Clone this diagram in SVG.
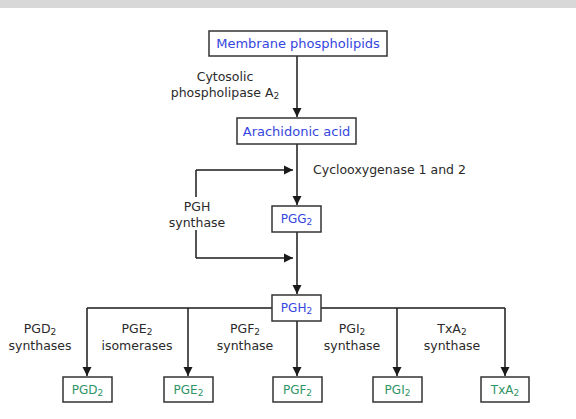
<svg xmlns="http://www.w3.org/2000/svg" width="576" height="419" viewBox="0 0 576 419">
<defs>
<marker id="ah" markerWidth="10" markerHeight="10" refX="9" refY="5" orient="auto" markerUnits="userSpaceOnUse">
<path d="M0,0.5 L9,5 L0,9.5 Z" fill="#1a1a1a"/>
</marker>
<style>
.box{fill:#fff;stroke:#333;stroke-width:1.5}
.nb{font-family:"DejaVu Sans",Verdana,sans-serif;font-size:12px;fill:#3546e0;text-anchor:middle}
.big{font-size:13px}
.ng{font-family:"DejaVu Sans",Verdana,sans-serif;font-size:12px;fill:#2f9466;text-anchor:middle}
.lb{font-family:"DejaVu Sans",Verdana,sans-serif;font-size:12.5px;fill:#2a2a2a;text-anchor:middle}
.st{text-anchor:start}
.sub{font-size:9px}
.ln{fill:none;stroke:#1a1a1a;stroke-width:1.5}
.ar{fill:none;stroke:#1a1a1a;stroke-width:1.5;marker-end:url(#ah)}
</style>
</defs>
<rect x="0" y="0" width="576" height="419" fill="#fff"/>
<rect x="0" y="0" width="576" height="8" fill="#d8d8d8"/>

<g id="connectors">
<line class="ar" x1="297" y1="56" x2="297" y2="117"/>
<line class="ar" x1="297" y1="144" x2="297" y2="205"/>
<polyline class="ln" points="196,197 196,170"/>
<line class="ar" x1="196" y1="170" x2="293" y2="170"/>
<polyline class="ln" points="196,230 196,258"/>
<line class="ar" x1="196" y1="258" x2="293" y2="258"/>
<line class="ar" x1="297" y1="232" x2="297" y2="294"/>
<line class="ln" x1="87" y1="308" x2="272" y2="308"/>
<line class="ln" x1="321" y1="308" x2="505" y2="308"/>
<line class="ar" x1="87" y1="308" x2="87" y2="376"/>
<line class="ar" x1="188" y1="308" x2="188" y2="376"/>
<line class="ar" x1="297" y1="321" x2="297" y2="376"/>
<line class="ar" x1="397" y1="308" x2="397" y2="376"/>
<line class="ar" x1="505" y1="308" x2="505" y2="376"/>
</g>

<g id="labels">
<text class="lb" x="225" y="81">Cytosolic</text>
<text class="lb" x="225" y="97">phospholipase A<tspan class="sub" dy="2">2</tspan></text>
<text class="lb st" x="313" y="174">Cyclooxygenase 1 and 2</text>
<text class="lb" x="197" y="211">PGH</text>
<text class="lb" x="197" y="227">synthase</text>
<text class="lb" x="40" y="333">PGD<tspan class="sub" dy="2">2</tspan></text>
<text class="lb" x="40" y="350">synthases</text>
<text class="lb" x="137" y="333">PGE<tspan class="sub" dy="2">2</tspan></text>
<text class="lb" x="137" y="350">isomerases</text>
<text class="lb" x="245" y="333">PGF<tspan class="sub" dy="2">2</tspan></text>
<text class="lb" x="245" y="350">synthase</text>
<text class="lb" x="352" y="333">PGI<tspan class="sub" dy="2">2</tspan></text>
<text class="lb" x="352" y="350">synthase</text>
<text class="lb" x="452" y="333">TxA<tspan class="sub" dy="2">2</tspan></text>
<text class="lb" x="452" y="350">synthase</text>
</g>

<g id="membrane">
<rect class="box" x="209" y="31" width="178" height="25"/>
<text class="nb big" x="298" y="48">Membrane phospholipids</text>
</g>
<g id="arachidonic">
<rect class="box" x="237" y="118" width="119" height="26"/>
<text class="nb big" x="296.5" y="135.5">Arachidonic acid</text>
</g>
<g id="pgg2">
<rect class="box" x="272" y="206" width="49" height="26"/>
<text class="nb" x="296.5" y="223">PGG<tspan class="sub" dy="2">2</tspan></text>
</g>
<g id="pgh2">
<rect class="box" x="272" y="295" width="49" height="26"/>
<text class="nb" x="296.5" y="312">PGH<tspan class="sub" dy="2">2</tspan></text>
</g>
<g id="pgd2">
<rect class="box" x="63" y="377" width="49" height="25"/>
<text class="ng" x="87.5" y="394">PGD<tspan class="sub" dy="2">2</tspan></text>
</g>
<g id="pge2">
<rect class="box" x="164" y="377" width="49" height="25"/>
<text class="ng" x="188.5" y="394">PGE<tspan class="sub" dy="2">2</tspan></text>
</g>
<g id="pgf2">
<rect class="box" x="273" y="377" width="49" height="25"/>
<text class="ng" x="297.5" y="394">PGF<tspan class="sub" dy="2">2</tspan></text>
</g>
<g id="pgi2">
<rect class="box" x="373" y="377" width="49" height="25"/>
<text class="ng" x="397.5" y="394">PGI<tspan class="sub" dy="2">2</tspan></text>
</g>
<g id="txa2">
<rect class="box" x="481" y="377" width="48" height="25"/>
<text class="ng" x="505" y="394">TxA<tspan class="sub" dy="2">2</tspan></text>
</g>
</svg>
